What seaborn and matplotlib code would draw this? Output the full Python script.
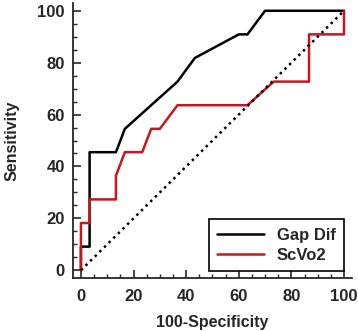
import matplotlib
matplotlib.use("Agg")
import matplotlib.pyplot as plt
import seaborn as sns
from matplotlib.ticker import MultipleLocator

# ROC curve points (100-Specificity, Sensitivity)
gap_x = [0, 0, 3.3, 3.3, 13.3, 16.7, 36.7, 43.3, 60.0, 63.3, 70.0, 100]
gap_y = [0, 9.1, 9.1, 45.5, 45.5, 54.5, 72.7, 81.8, 90.9, 90.9, 100, 100]

scv_x = [0, 0, 3.3, 3.3, 13.3, 13.3, 16.7, 23.3, 26.7, 30.0, 36.7, 63.3, 73.3, 86.7, 86.7, 100, 100]
scv_y = [0, 18.2, 18.2, 27.3, 27.3, 36.4, 45.5, 45.5, 54.5, 54.5, 63.6, 63.6, 72.7, 72.7, 90.9, 90.9, 100]

ref_x = [0, 100]
ref_y = [0, 100]

sns.set_style("ticks")
plt.rcParams['font.family'] = ['Liberation Sans', 'DejaVu Sans']

fig = plt.figure(figsize=(3.58, 3.31), dpi=100)
ax = fig.add_axes([0.204, 0.160, 0.779, 0.831])

sns.lineplot(x=gap_x, y=gap_y, sort=False, estimator=None, color='black', linewidth=1.8,
             ax=ax, label='Gap Dif')
sns.lineplot(x=scv_x, y=scv_y, sort=False, estimator=None, color='#c8161d', linewidth=1.8,
             ax=ax, label='ScVo2')
ax.plot(ref_x, ref_y, color='black', linestyle=(0, (1, 1.6)), linewidth=1.8)

ax.set_xlim(-3, 103)
ax.set_ylim(-3, 103)
ax.xaxis.set_major_locator(MultipleLocator(20))
ax.yaxis.set_major_locator(MultipleLocator(20))
ax.xaxis.set_minor_locator(MultipleLocator(5))
ax.yaxis.set_minor_locator(MultipleLocator(5))
ax.tick_params(which='major', direction='in', length=6, width=1.2, labelsize=12)
ax.tick_params(which='minor', direction='in', length=3, width=1.0)
ax.tick_params(axis='x', which='major', pad=8)
ax.tick_params(axis='y', which='major', pad=6)
for lab in ax.get_xticklabels() + ax.get_yticklabels():
    lab.set_fontweight('bold')

for side in ['top', 'right']:
    ax.spines[side].set_visible(False)
for side in ['left', 'bottom']:
    ax.spines[side].set_linewidth(1.3)

ax.set_xlabel('100-Specificity', fontweight='bold', fontsize=11.5, labelpad=8)
ax.set_ylabel('Sensitivity', fontweight='bold', fontsize=11.5, labelpad=13)

leg = ax.legend(loc='lower right', bbox_to_anchor=(0.972, 0.025), borderaxespad=0,
                prop={'weight': 'bold', 'size': 12}, fancybox=False, framealpha=1,
                edgecolor='black', handlelength=2.8, borderpad=0.5, labelspacing=0.3)
leg.get_frame().set_linewidth(1.2)

fig.savefig('out.png', dpi=100)
